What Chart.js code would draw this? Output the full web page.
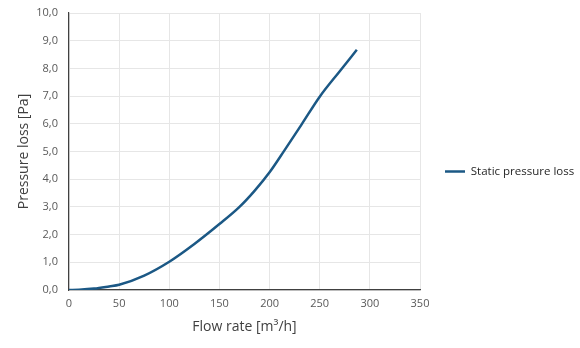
<!DOCTYPE html>
<html>
<head>
<meta charset="utf-8">
<script src="https://cdn.jsdelivr.net/npm/chart.js@4"></script>
<style>
    html, body { margin: 0; padding: 0; background: #fff; }
    #wrap { width: 580px; height: 348px; }
</style>
</head>
<body>
<div id="wrap"><canvas id="pressureChart"></canvas></div>
<script>
// flow rate [m3/h] and the matching static pressure loss [Pa]
const flowRate = [0, 10, 25, 40, 50, 75, 100, 125, 150, 170, 185, 200, 215, 232, 250, 270, 287];
const pressureLoss = [0, 0.01, 0.05, 0.13, 0.19, 0.52, 1.02, 1.66, 2.38, 3.0, 3.58, 4.25, 5.05, 5.98, 6.98, 7.9, 8.67];
const seriesName = 'Static pressure loss';
const xTitle = 'Flow rate [m³/h]';
const yTitle = 'Pressure loss [Pa]';

const lineColor = '#1b5885';
const gridColor = '#e6e6e6';
const axisColor = '#404040';
const legendBreite = 160;

Chart.defaults.font.family = "'Open Sans', sans-serif";

const punkte = flowRate.map((x, i) => ({ x: x, y: pressureLoss[i] }));

function drawChart() {
    const chart = new Chart(document.getElementById('pressureChart'), {
        type: 'line',
        data: {
            datasets: [{
                label: seriesName,
                data: punkte,
                borderColor: lineColor,
                backgroundColor: lineColor,
                borderWidth: 2.5,
                pointRadius: 0,
                pointStyle: 'line',
                cubicInterpolationMode: 'monotone',
                fill: false
            }]
        },
        options: {
            responsive: true,
            maintainAspectRatio: false,
            animation: false,
            layout: { padding: { left: 12, top: 4, right: 0, bottom: 9 } },
            plugins: {
                legend: {
                    position: 'right',
                    labels: {
                        usePointStyle: true,
                        pointStyleWidth: 20,
                        textAlign: 'left',
                        color: '#262626',
                        font: { size: 11.5 },
                        padding: 25
                    }
                },
                tooltip: { enabled: false }
            },
            scales: {
                x: {
                    type: 'linear',
                    min: 0, max: 350,
                    ticks: { stepSize: 50, color: '#595959', font: { size: 11 }, padding: 7 },
                    grid: { color: gridColor, drawTicks: false },
                    border: { color: axisColor, width: 1.2 },
                    title: { display: true, text: xTitle, color: '#404040', font: { size: 14 }, padding: { top: 1 } }
                },
                y: {
                    min: 0, max: 10,
                    ticks: {
                        stepSize: 1, color: '#595959', font: { size: 11 }, padding: 11,
                        callback: v => v.toFixed(1).replace('.', ',')
                    },
                    grid: { color: gridColor, drawTicks: false },
                    border: { color: axisColor, width: 1.2 },
                    title: { display: true, text: yTitle, color: '#404040', font: { size: 14 }, padding: { top: 4, bottom: 2 } },
                    afterFit: s => { s.width = 57; s.paddingTop = 13; }
                }
            }
        }
    });

    // Legende rechts breiter machen als Chart.js es sonst erlaubt (max. ein Viertel der Breite)
    const lg = chart.legend;
    const fitAlt = lg.fit;
    lg.fit = function () {
        fitAlt.call(this);
        this.width = legendBreite;
    };
    chart.update();
}

if (document.fonts && document.fonts.load) {
    Promise.all([
        document.fonts.load("12px 'Open Sans'"),
        document.fonts.load("14px 'Open Sans'")
    ]).then(drawChart, drawChart);
} else {
    drawChart();
}
</script>
</body>
</html>
